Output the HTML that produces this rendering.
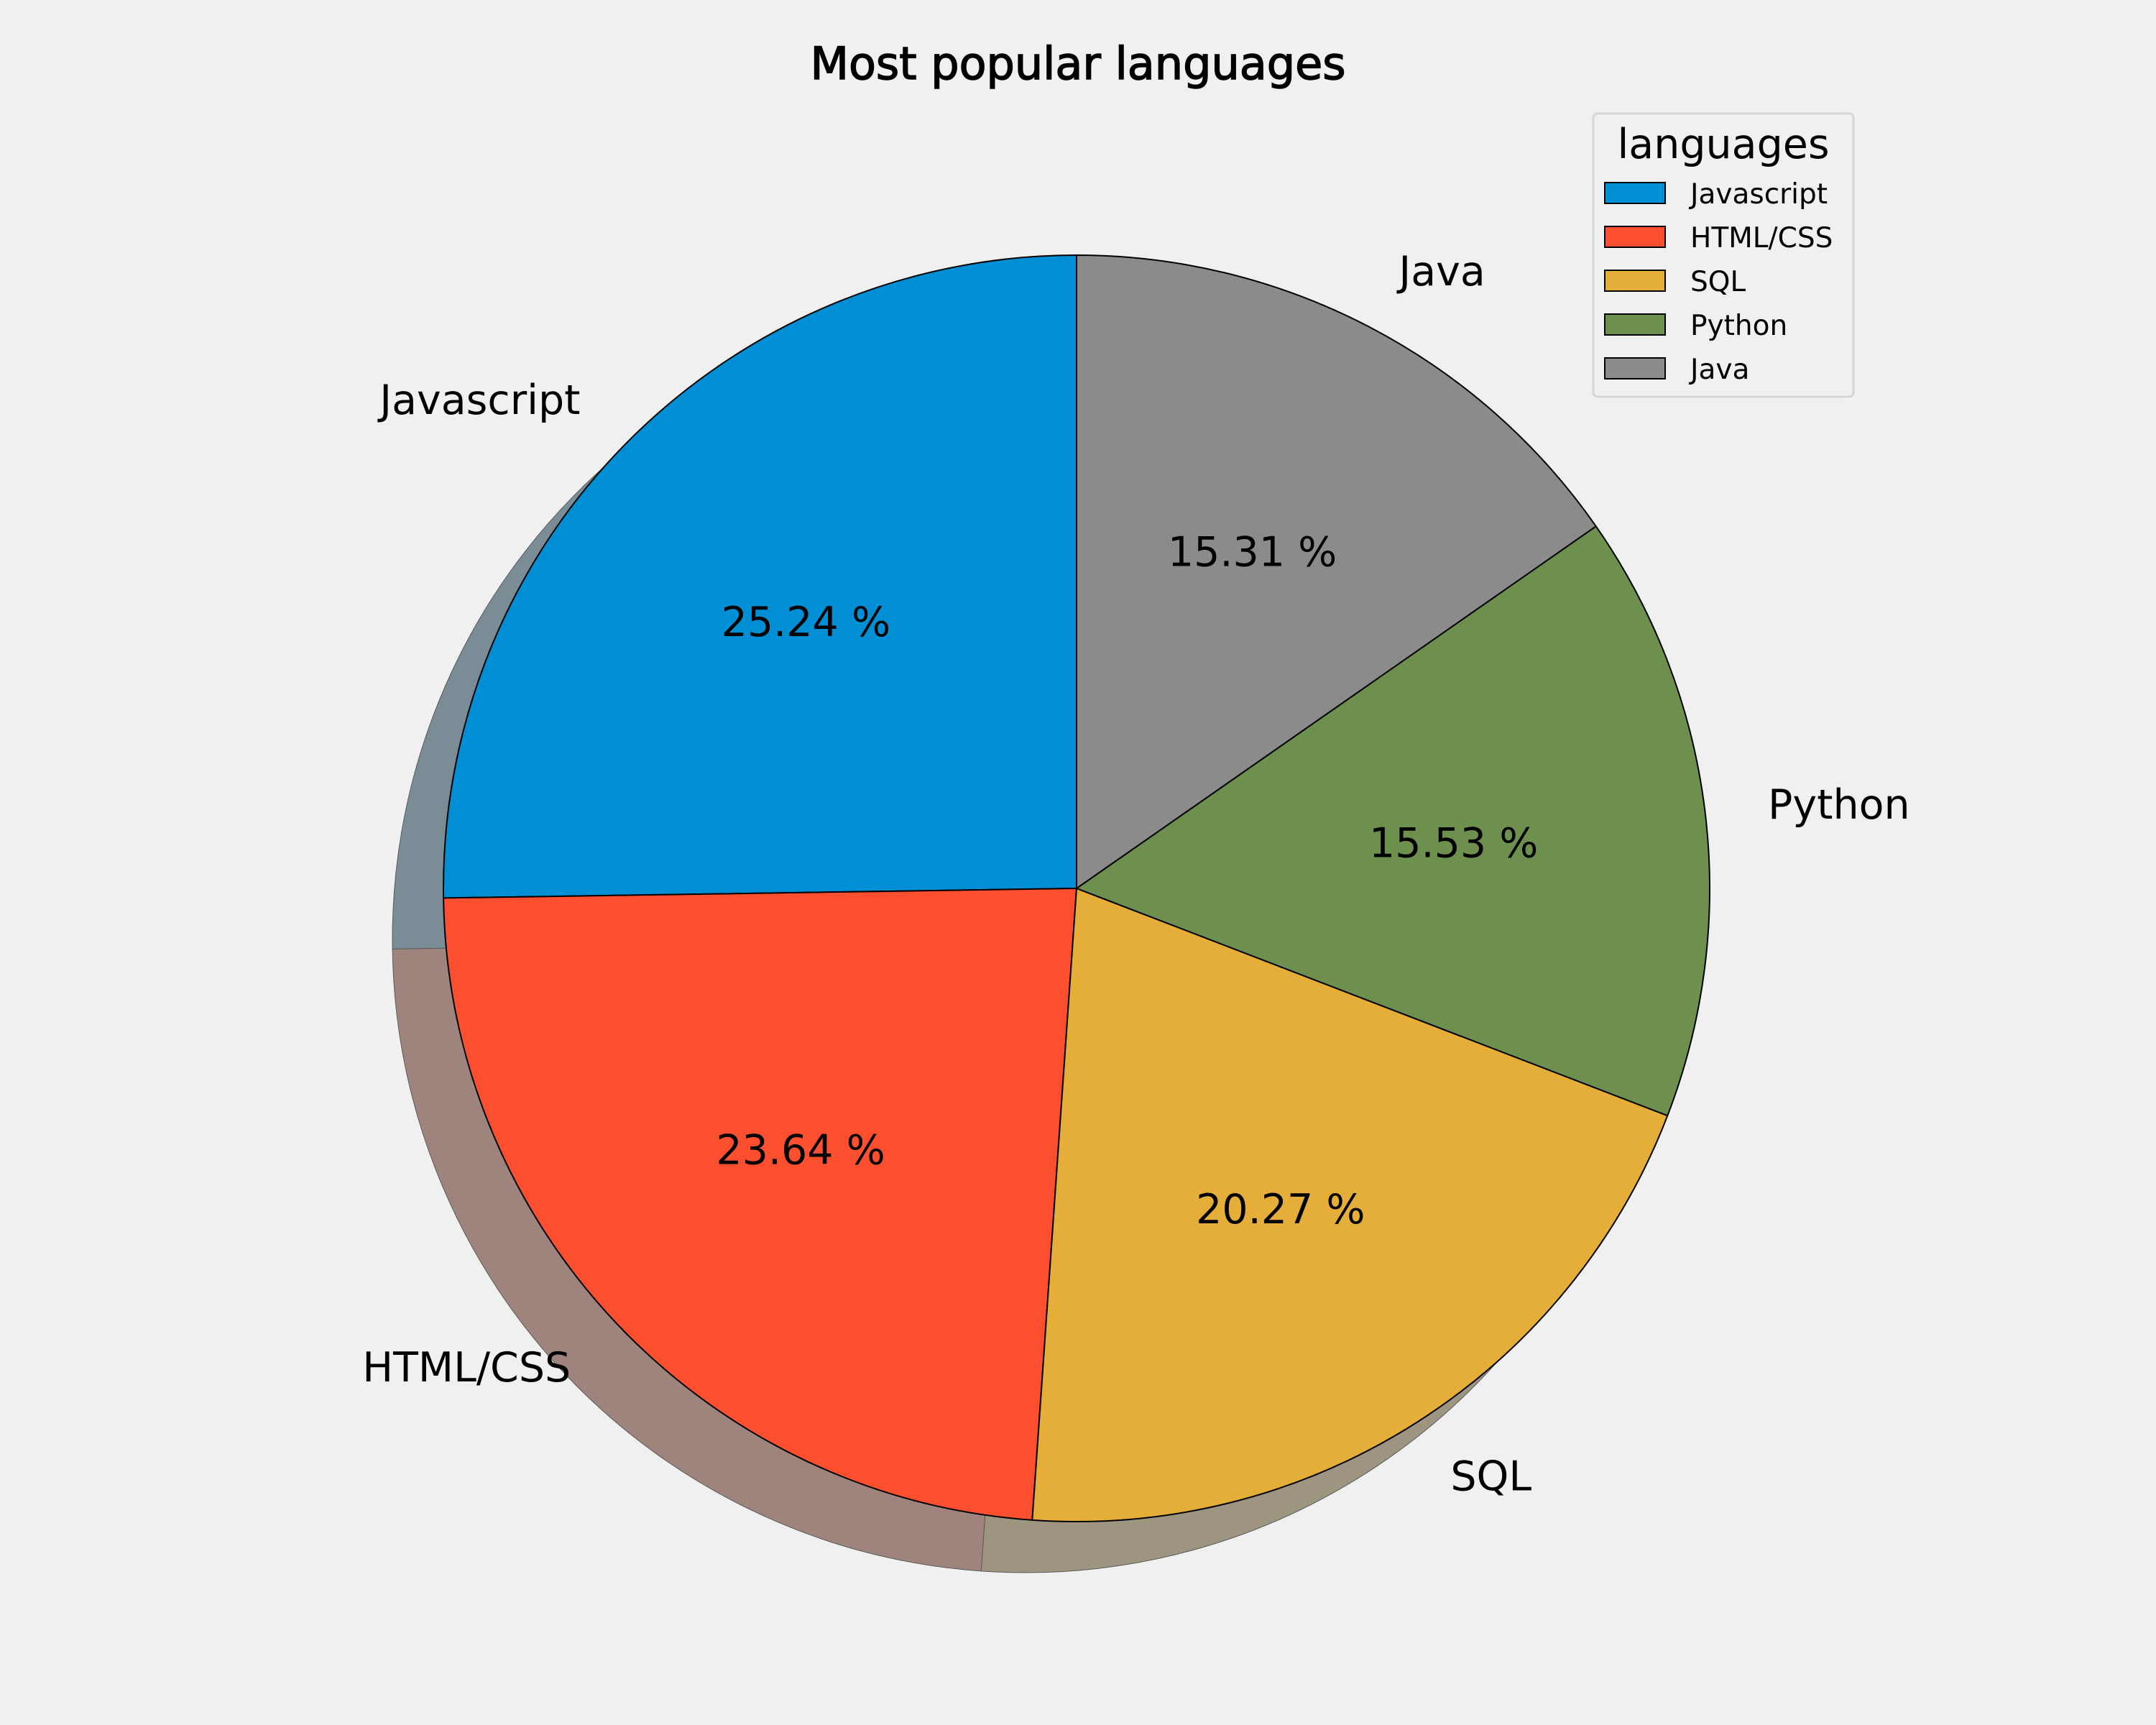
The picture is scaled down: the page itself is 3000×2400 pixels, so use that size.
<!DOCTYPE html>
<html><head><meta charset="utf-8"><style>
html,body{margin:0;padding:0;background:#f0f0f0;}
svg{display:block;}
text{font-family:"DejaVu Sans","Liberation Sans",sans-serif;}
</style></head><body>
<svg id="chart" width="3000" height="2400" viewBox="0 0 3000 2400" xmlns="http://www.w3.org/2000/svg">
<rect width="3000" height="2400" fill="#f0f0f0"/>
<text x="1500" y="110" text-anchor="middle" font-size="62" stroke="#000" stroke-width="1.5" style="font-family:'Comic Sans MS','DejaVu Sans',sans-serif">Most popular languages</text>
<g id="shadow"></g>
<g id="slices"></g>
<g id="labels"></g>
<g id="legend">
<rect x="2217" y="158" width="362" height="394" rx="6" fill="#f0f0f0" stroke="#d6d6d6" stroke-width="3"/>
<text x="2398" y="220" text-anchor="middle" font-size="57">languages</text>
</g>
</svg>
<script>
const categories = ["Javascript","HTML/CSS","SQL","Python","Java"];
const values = [25.24,23.64,20.27,15.53,15.31];
const colors = ["#008fd5","#fc4f30","#e5ae38","#6d904f","#8b8b8b"];
const shadowColors = ["#7a8d97","#9e847c","#9e9580","#8a917f","#8f8f8f"];

const NS="http://www.w3.org/2000/svg";
const cx=1498, cy=1236, R=881, sdx=-71, sdy=71;
const total=values.reduce((a,b)=>a+b,0);
function pt(x0,y0,r,deg){const a=deg*Math.PI/180;return [x0+r*Math.cos(a), y0-r*Math.sin(a)];}
function wedge(x0,y0,a0,a1){
  const p0=pt(x0,y0,R,a0), p1=pt(x0,y0,R,a1);
  const large=(a1-a0)>180?1:0;
  return `M${x0},${y0} L${p0[0]},${p0[1]} A${R},${R} 0 ${large} 0 ${p1[0]},${p1[1]} Z`;
}
const shadowG=document.getElementById('shadow');
const sliceG=document.getElementById('slices');
const labelG=document.getElementById('labels');
let ang=90;
values.forEach((v,i)=>{
  const sweep=v/total*360, a0=ang, a1=ang+sweep, mid=(a0+a1)/2;
  const sh=document.createElementNS(NS,'path');
  sh.setAttribute('d',wedge(cx+sdx,cy+sdy,a0,a1));
  sh.setAttribute('fill',shadowColors[i]);
  sh.setAttribute('stroke','#5a5a5a');sh.setAttribute('stroke-width','1');
  
  
  shadowG.appendChild(sh);
  const p=document.createElementNS(NS,'path');
  p.setAttribute('d',wedge(cx,cy,a0,a1));
  p.setAttribute('fill',colors[i]);
  p.setAttribute('stroke','#000');p.setAttribute('stroke-width','2');
  
  
  sliceG.appendChild(p);
  const lp=pt(cx,cy,R*1.1,mid);
  const t=document.createElementNS(NS,'text');
  t.setAttribute('x',lp[0]);t.setAttribute('y',lp[1]+20);
  t.setAttribute('font-size','57');
  t.setAttribute('text-anchor',Math.cos(mid*Math.PI/180)>=0?'start':'end');
  t.textContent=categories[i];
  
  
  labelG.appendChild(t);
  const pp=pt(cx,cy,R*0.6,mid);
  const t2=document.createElementNS(NS,'text');
  t2.setAttribute('x',pp[0]);t2.setAttribute('y',pp[1]+20);
  t2.setAttribute('font-size','57');t2.setAttribute('text-anchor','middle');
  t2.textContent=(v/total*100).toFixed(2)+' %';
  
  
  labelG.appendChild(t2);
  ang=a1;
});
const lg=document.getElementById('legend');
categories.forEach((c,i)=>{
  const y=254+i*61;
  const r=document.createElementNS(NS,'rect');
  r.setAttribute('x',2233);r.setAttribute('y',y);r.setAttribute('width',84);r.setAttribute('height',29);
  r.setAttribute('fill',colors[i]);r.setAttribute('stroke','#000');r.setAttribute('stroke-width','2');
  
  
  lg.appendChild(r);
  const t=document.createElementNS(NS,'text');
  t.setAttribute('x',2352);t.setAttribute('y',y+29);t.setAttribute('font-size','39');
  t.textContent=c;
  
  
  lg.appendChild(t);
});
</script>
</body></html>
